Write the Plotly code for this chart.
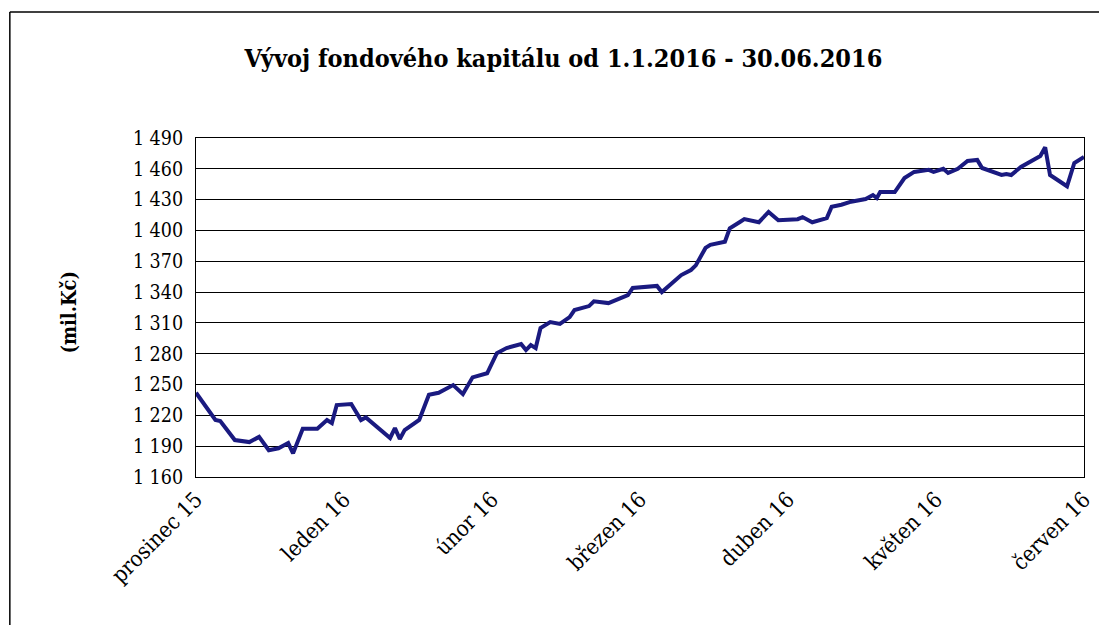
import plotly.graph_objects as go

# day offsets from 1 Dec 2015 (axis start) and fund capital values (mil. Kč)
days = [0, 4, 5, 8, 11, 13, 15, 17, 19, 20, 22, 25, 27, 28, 29, 32, 34, 35, 40, 41,
        42, 43, 46, 48, 50, 53, 55, 57, 60, 62, 64, 67, 68, 69, 70, 71, 73, 75, 77, 78,
        81, 82, 85, 89, 90, 95, 96, 98, 100, 102, 103, 105, 106, 109, 110, 112, 113, 116,
        118, 120, 124, 125, 127, 130, 131, 133, 135, 138, 139.5, 140.3, 141, 144, 146, 148,
        151, 152, 154, 155, 157, 159, 161, 162, 166, 167, 168, 170, 173, 174, 175, 176,
        179.5, 181, 183]
values = [1242, 1215.5, 1214.5, 1196, 1194, 1199, 1186, 1188, 1193, 1183, 1207, 1207,
          1215.5, 1212.5, 1230, 1231, 1215.5, 1218, 1198, 1207.6, 1197, 1205.7, 1215.5,
          1240, 1242, 1249.5, 1240.7, 1257, 1261, 1280.6, 1285.5, 1289.4, 1283.6, 1288.4,
          1285.5, 1305, 1310.8, 1309, 1315.7, 1322.5, 1326.4, 1331, 1329.3, 1337, 1344,
          1346, 1340, 1348, 1356.6, 1361.5, 1366, 1383, 1386, 1389, 1402, 1408, 1411, 1408,
          1418, 1410, 1411, 1413, 1408, 1412, 1423, 1425, 1428, 1430.6, 1434.5, 1431.6,
          1437.4, 1437.4, 1451, 1457, 1459, 1457, 1460, 1456, 1460, 1467.6, 1468.6, 1460.8,
          1454, 1455, 1454, 1461.8, 1470.5, 1472.5, 1481, 1454, 1443, 1465.7, 1471.5]

month_labels = ["prosinec 15", "leden 16", "únor 16", "březen 16", "duben 16",
                "květen 16", "červen 16"]
month_pos = [0, 30.5, 61, 91.5, 122, 152.5, 183]
y_ticks = list(range(1160, 1491, 30))
y_labels = [f"{v // 1000} {v % 1000:03d}" for v in y_ticks]

OFF = 8  # page body margin
W, H = 1107 - OFF, 625 - OFF
L, R, T, B = 196 - OFF, 1088 - OFF, 138 - OFF, 477 - OFF

def px(xp):
    return (xp - OFF - L) / (R - L)

def py(yp):
    return (B - (yp - OFF)) / (B - T)

fig = go.Figure()
fig.add_trace(go.Scatter(x=days, y=values, mode="lines",
                         line=dict(color="#1a1a80", width=4), hoverinfo="skip"))

serif = "DejaVu Serif Condensed, DejaVu Serif"
fig.update_layout(
    width=W, height=H,
    margin=dict(l=L, r=W - R, t=T, b=H - B, pad=0),
    paper_bgcolor="white", plot_bgcolor="white",
    showlegend=False,
    font=dict(family=serif, color="black", size=19),
    title=dict(text="<b>Vývoj fondového kapitálu od 1.1.2016 - 30.06.2016</b>",
               xref="paper", x=px(565), xanchor="center",
               yref="container", y=1 - (58 - OFF) / H, yanchor="middle",
               font=dict(family=serif, size=25, color="black")),
    xaxis=dict(range=[0, 183], tickvals=month_pos, ticktext=month_labels,
               tickangle=-45, showgrid=False, zeroline=False,
               showline=True, linecolor="black", linewidth=1, mirror=True,
               ticks="", tickfont=dict(family=serif, size=22, color="black")),
    yaxis=dict(range=[1160, 1490], tickvals=y_ticks, ticktext=y_labels,
               showgrid=True, gridcolor="black", gridwidth=1, zeroline=False,
               showline=True, linecolor="black", linewidth=1, mirror=True,
               ticks="", ticklabelstandoff=8,
               tickfont=dict(family=serif, size=19.5, color="black")),
    annotations=[dict(text="<b>(mil.Kč)</b>", textangle=-90, showarrow=False,
                      xref="paper", yref="paper",
                      x=px(68), y=py(312),
                      xanchor="center", yanchor="middle",
                      font=dict(family=serif, size=20, color="black"))],
    shapes=[
        dict(type="line", xref="paper", yref="paper",
             x0=px(9), x1=px(9), y0=py(12), y1=py(640),
             line=dict(color="black", width=1.5)),
        dict(type="line", xref="paper", yref="paper",
             x0=px(9), x1=px(1120), y0=py(12), y1=py(12),
             line=dict(color="black", width=1.5)),
    ],
)

fig.write_html("out.html")
